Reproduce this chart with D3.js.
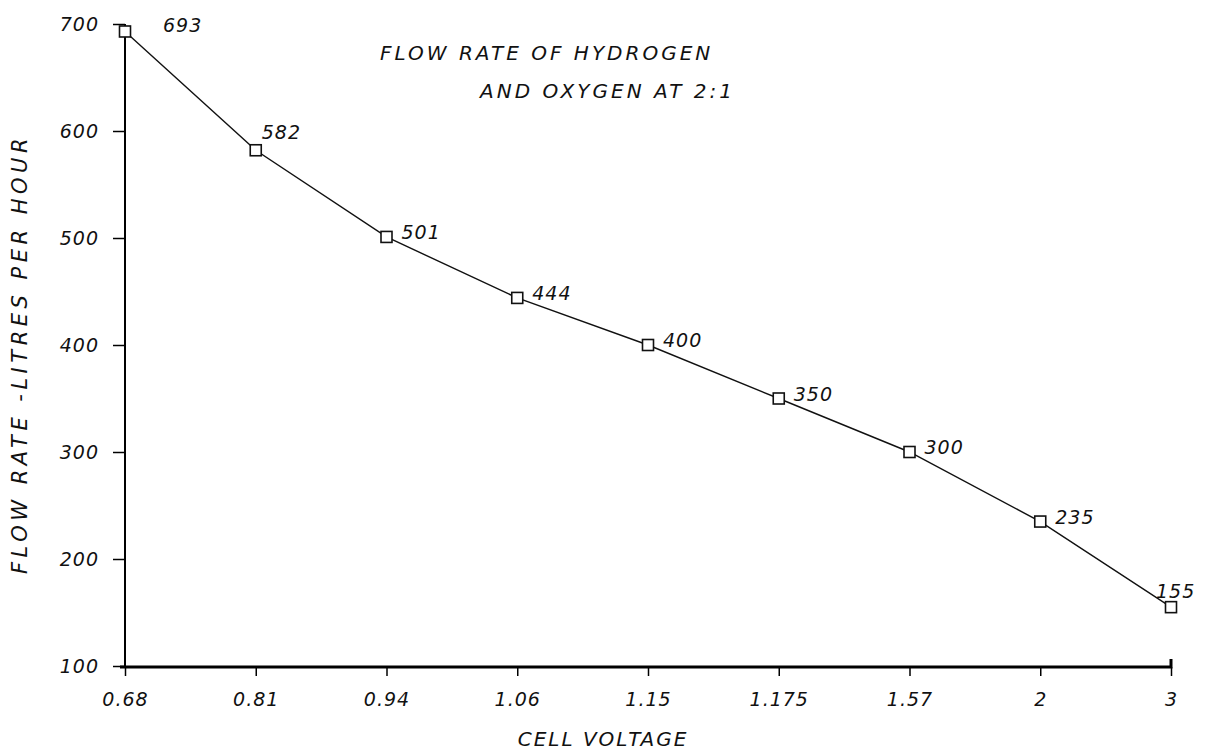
<!DOCTYPE html>
<html>
<head>
<meta charset="utf-8">
<script src="https://cdn.jsdelivr.net/npm/d3@7"></script>
<style>
  body { margin: 0; background: #fff; }
  svg text { font-family: "DejaVu Sans", sans-serif; font-style: italic; fill: #111; }
</style>
</head>
<body>
<svg class="chart"></svg>
<script>
// chart data
var voltages = ["0.68", "0.81", "0.94", "1.06", "1.15", "1.175", "1.57", "2", "3"];
var flowRates = [693, 582, 501, 444, 400, 350, 300, 235, 155];
var yTicks = [100, 200, 300, 400, 500, 600, 700];

var width = 1207,
    height = 753;

var chart = d3.select(".chart")
    .attr("width", width)
    .attr("height", height);

var x = d3.scalePoint()
    .domain(voltages)
    .range([125, 1171]);

var y = d3.scaleLinear()
    .domain([100, 700])
    .range([666, 24]);

// axes
var xAxis = chart.append("g")
    .attr("transform", "translate(0,667)")
    .call(d3.axisBottom(x).tickSize(9).tickPadding(10));
xAxis.select(".domain").attr("stroke-width", 3).attr("d", "M120,0H1171V-8");
xAxis.selectAll(".tick line").attr("stroke-width", 1.5);
xAxis.selectAll(".tick text")
    .attr("font-size", 19)
    .attr("letter-spacing", 1)
    .style("font-family", "DejaVu Sans")
    .attr("dy", "1.05em");

var yAxis = chart.append("g")
    .attr("transform", "translate(125,0)")
    .call(d3.axisLeft(y).tickValues(yTicks).tickSize(12).tickPadding(14));
yAxis.select(".domain").attr("stroke-width", 2).attr("d", "M0,666V24");
yAxis.selectAll(".tick line").attr("stroke-width", 1.5);
yAxis.selectAll(".tick text")
    .attr("font-size", 19)
    .attr("letter-spacing", 1)
    .style("font-family", "DejaVu Sans");

// line
var line = d3.line()
    .x(function(d, i) { return x(voltages[i]); })
    .y(function(d) { return y(d); });

chart.append("path")
    .datum(flowRates)
    .attr("fill", "none")
    .attr("stroke", "#111")
    .attr("stroke-width", 1.4)
    .attr("d", line);

// square markers
chart.selectAll("rect.pt")
    .data(flowRates)
  .enter().append("rect")
    .attr("class", "pt")
    .attr("x", function(d, i) { return x(voltages[i]) - 5.5; })
    .attr("y", function(d) { return y(d) - 5.5; })
    .attr("width", 11)
    .attr("height", 11)
    .attr("fill", "#fff")
    .attr("stroke", "#111")
    .attr("stroke-width", 1.6);

// value labels
var last = flowRates.length - 1;
chart.selectAll("text.val")
    .data(flowRates)
  .enter().append("text")
    .attr("class", "val")
    .attr("font-size", 19)
    .attr("letter-spacing", 1)
    .attr("x", function(d, i) {
      if (i === 0) return x(voltages[i]) + 38;
      if (i === 1) return x(voltages[i]) + 6;
      if (i === last) return x(voltages[i]) - 15;
      return x(voltages[i]) + 15;
    })
    .attr("y", function(d, i) {
      if (i === 0) return y(d) + 1;
      if (i === 1) return y(d) - 11;
      if (i === last) return y(d) - 9;
      return y(d) + 2;
    })
    .text(function(d) { return d; });

// titles
chart.append("text")
    .attr("x", 380).attr("y", 60)
    .attr("font-size", 20)
    .attr("letter-spacing", 3)
    .text("FLOW RATE OF HYDROGEN");
chart.append("text")
    .attr("x", 480).attr("y", 98)
    .attr("font-size", 20)
    .attr("letter-spacing", 3)
    .text("AND OXYGEN AT 2:1");

chart.append("text")
    .attr("text-anchor", "middle")
    .attr("x", 603).attr("y", 746)
    .attr("font-size", 20)
    .attr("letter-spacing", 2)
    .text("CELL VOLTAGE");

chart.append("text")
    .attr("text-anchor", "middle")
    .attr("transform", "translate(27,354) rotate(-90)")
    .attr("font-size", 21)
    .attr("letter-spacing", 4.5)
    .text("FLOW RATE -LITRES PER HOUR");
</script>
</body>
</html>
